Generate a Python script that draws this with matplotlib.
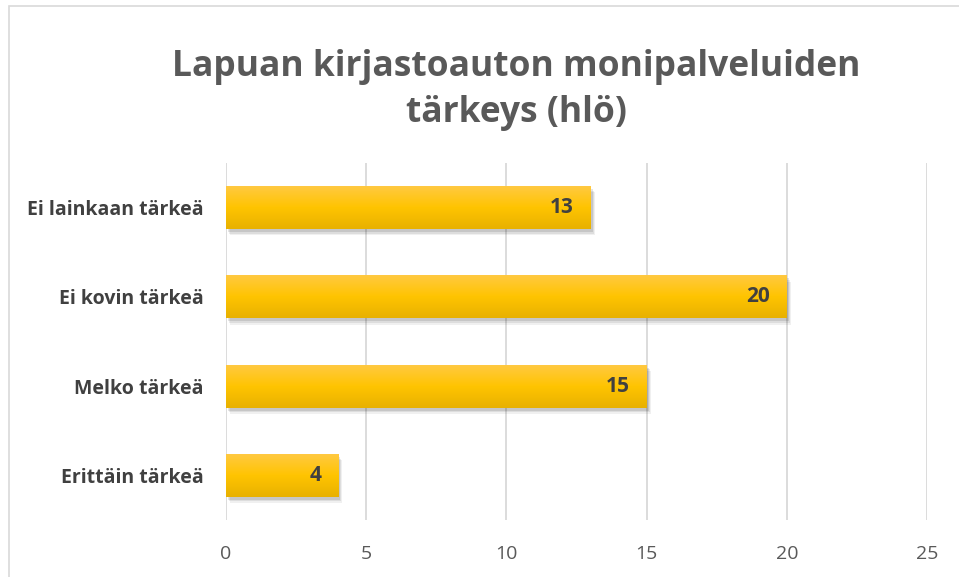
import numpy as np
import matplotlib.pyplot as plt
from matplotlib.patches import Rectangle
from matplotlib.colors import LinearSegmentedColormap

# data
categories = ['Ei lainkaan tärkeä', 'Ei kovin tärkeä', 'Melko tärkeä', 'Erittäin tärkeä']
values = [13, 20, 15, 4]
xticks = [0, 5, 10, 15, 20, 25]
title = 'Lapuan kirjastoauton monipalveluiden\ntärkeys (hlö)'

plt.rcParams['font.family'] = ['Open Sans', 'DejaVu Sans']

fig = plt.figure(figsize=(9.59, 5.77), dpi=100, facecolor='w')
ax = fig.add_axes([226/959, 1-520/577, (927-226)/959, (520-163)/577])

# chart border (left / top visible)
fig.patches.append(Rectangle((8.5/959, -0.05), 1.2, 1-6/577+0.05, transform=fig.transFigure,
                             fill=False, ec='#d9d9d9', lw=1.2))

y = np.arange(len(categories))
h = 0.48

# gradient for the bars
grad = np.linspace(0, 1, 100).reshape(-1, 1)
cmap = LinearSegmentedColormap.from_list('gold', ['#ffc941', '#ffc400', '#e8b100'])

for yi, v in zip(y, values):
    # soft shadow
    for k, a in zip([1.0, 0.7, 0.4], [0.06, 0.08, 0.10]):
        ax.add_patch(Rectangle((0.03 + k*0.12, yi - h/2 + 0.01 + k*0.06), v, h,
                               fc='black', alpha=a, lw=0, zorder=2))
    bar = ax.barh(yi, v, height=h, color='#ffc000', zorder=3)[0]
    im = ax.imshow(grad, cmap=cmap, aspect='auto', extent=(0, v, yi + h/2, yi - h/2), zorder=3.5)
    im.set_clip_path(bar)
    ax.text(v - 0.6, yi, str(v), ha='right', va='center', fontsize=15,
            fontweight='bold', color='#404040', zorder=5)

ax.set_xlim(0, 25)
ax.set_ylim(len(categories) - 0.5, -0.5)
ax.set_yticks(y)
ax.set_yticklabels(categories, fontsize=14, fontweight='bold', color='#404040')
ax.set_xticks(xticks)
ax.set_xticklabels([str(t) for t in xticks], fontsize=14, color='#595959')
ax.tick_params(length=0)
ax.tick_params(axis='y', pad=16)
ax.tick_params(axis='x', pad=18)
ax.grid(axis='x', color='#d9d9d9', lw=1.3, zorder=0)
ax.set_axisbelow(True)
for s in ax.spines.values():
    s.set_visible(False)

fig.text(516/959, 1-90/577, title, ha='center', va='center', fontsize=25.5,
         fontweight='bold', color='#595959', linespacing=1.4)

fig.savefig('out.png', dpi=100, facecolor='w')
